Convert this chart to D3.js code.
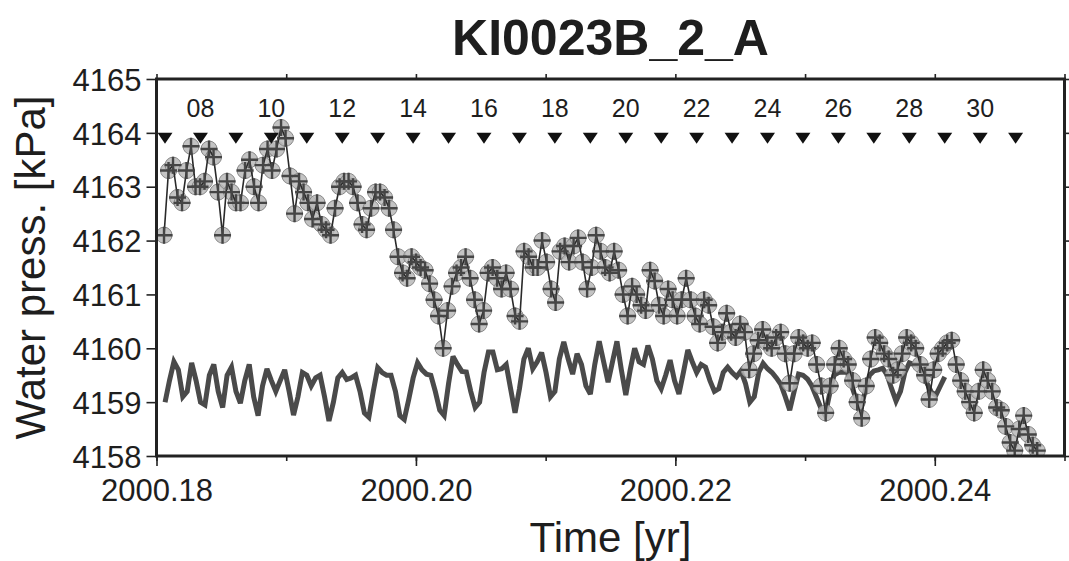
<!DOCTYPE html>
<html><head><meta charset="utf-8">
<script src="https://cdn.jsdelivr.net/npm/d3@7"></script>
<style>body{margin:0;background:#fff} svg{display:block} text{font-family:"Liberation Sans",Arial,Helvetica,sans-serif;fill:#1e1e1e}</style>
</head><body><svg id="c" width="1069" height="561"></svg>
<script>
const titleText = "KI0023B_2_A";
const xLabel = "Time [yr]";
const yLabel = "Water press. [kPa]";
const xMajorTicks = [2000.18, 2000.20, 2000.22, 2000.24];
const xMinorTicks = [2000.18, 2000.19, 2000.20, 2000.21, 2000.22, 2000.23, 2000.24, 2000.25];
const yTicks = [4158, 4159, 4160, 4161, 4162, 4163, 4164, 4165];
const markDays = [7,8,9,10,11,12,13,14,15,16,17,18,19,20,21,22,23,24,25,26,27,28,29,30,31];
const labelDays = [8,10,12,14,16,18,20,22,24,26,28,30];
const markLevel = 4164;
const measuredStartYr = 2000.18058;
const measuredStepDays = 0.127;
const modelStartYr = 2000.18066;
const modelStepDays = 0.125;
const measured = [
4162.1,4163.3,4163.4,4162.8,4162.7,4163.3,4163.75,4163.0,4163.0,4163.1,
4163.7,4163.55,4162.9,4162.1,4163.1,4162.9,4162.7,4162.7,4163.3,4163.5,
4163.0,4162.7,4163.4,4163.7,4163.3,4163.7,4164.1,4163.9,4163.2,4162.5,
4163.1,4162.9,4162.7,4162.4,4162.7,4162.3,4162.2,4162.1,4162.6,4163.0,
4163.1,4163.1,4163.0,4162.7,4162.3,4162.2,4162.6,4162.9,4162.9,4162.8,
4162.6,4162.2,4161.7,4161.4,4161.3,4161.7,4161.6,4161.5,4161.45,4161.2,
4160.9,4160.6,4160.0,4160.7,4161.15,4161.4,4161.5,4161.7,4161.3,4160.9,
4160.45,4160.7,4161.4,4161.5,4161.3,4161.1,4161.4,4161.1,4160.6,4160.5,
4161.8,4161.7,4161.5,4161.5,4162.0,4161.6,4161.1,4160.85,4161.8,4161.9,
4161.6,4161.9,4162.05,4161.6,4161.1,4161.5,4162.1,4161.8,4161.5,4161.4,
4161.8,4161.45,4161.0,4160.6,4161.15,4161.0,4160.8,4160.7,4161.45,4161.25,
4160.8,4160.6,4161.1,4160.9,4160.6,4160.9,4161.3,4160.9,4160.6,4160.45,
4160.9,4160.8,4160.4,4160.1,4160.3,4160.65,4160.3,4160.2,4160.45,4160.3,
4159.6,4159.9,4160.15,4160.35,4160.1,4160.0,4160.2,4160.3,4159.9,4159.35,
4159.9,4160.2,4160.1,4160.0,4160.1,4159.7,4159.3,4158.8,4159.3,4159.7,
4160.0,4159.8,4159.7,4159.4,4159.0,4158.7,4159.3,4159.8,4160.2,4160.1,
4159.9,4159.8,4159.5,4159.6,4159.9,4160.2,4160.1,4160.0,4159.7,4159.5,
4159.05,4159.6,4159.9,4160.0,4160.1,4160.15,4159.7,4159.4,4159.2,4159.0,
4158.8,4159.2,4159.6,4159.4,4159.2,4158.9,4158.85,4158.55,4158.25,4158.1,
4158.5,4158.75,4158.4,4158.2,4158.1
];
const model = [
4159.0,4159.4,4159.75,4159.6,4159.1,4159.2,4159.73,4159.4,4159.0,4158.95,
4159.5,4159.7,4159.2,4158.9,4159.5,4159.65,4159.2,4158.98,4159.4,4159.7,
4159.1,4158.75,4159.3,4159.62,4159.4,4159.2,4159.4,4159.6,4159.2,4158.76,
4159.1,4159.55,4159.5,4159.3,4159.45,4159.5,4159.1,4158.65,4159.0,4159.45,
4159.55,4159.42,4159.45,4159.5,4159.2,4158.8,4158.72,4159.2,4159.64,4159.55,
4159.5,4159.5,4159.2,4158.75,4158.68,4159.05,4159.45,4159.73,4159.6,4159.52,
4159.5,4159.2,4158.85,4158.75,4159.35,4159.85,4159.7,4159.57,4159.56,4159.2,
4158.9,4159.0,4159.55,4159.93,4159.93,4159.6,4159.62,4159.7,4159.25,4158.8,
4159.25,4159.8,4160.0,4159.62,4159.75,4159.92,4159.55,4159.1,4159.2,4159.8,
4160.12,4159.8,4159.52,4159.9,4159.7,4159.3,4159.15,4159.7,4160.13,4159.75,
4159.37,4159.75,4160.13,4159.6,4159.13,4159.6,4160.0,4159.75,4159.7,4160.05,
4159.8,4159.4,4159.25,4159.5,4159.78,4159.4,4159.15,4159.55,4159.97,4159.75,
4159.55,4159.7,4159.65,4159.4,4159.2,4159.25,4159.55,4159.65,4159.55,4159.47,
4159.58,4159.35,4159.0,4159.1,4159.55,4159.72,4159.62,4159.55,4159.45,4159.33,
4159.1,4158.85,4159.2,4159.52,4159.5,4159.43,4159.3,4159.1,4158.9,4158.76,
4159.15,4159.5,4159.55,4159.56,4159.55,4159.3,4159.05,4158.87,4159.2,4159.5,
4159.58,4159.6,4159.63,4159.5,4159.25,4159.02,4159.2,4159.55,4159.73,4159.7,
4159.69,4159.55,4159.35,4159.18,4159.13,4159.3,4159.47
];

const yrPerDay = 1/366;
const dayYr = d => 2000 + (d + 59.12) * yrPerDay; // marker for day d of March 2000
const measYr = i => measuredStartYr + i * measuredStepDays * yrPerDay;
const modelYr = i => modelStartYr + i * modelStepDays * yrPerDay;

const svg = d3.select("#c");
const L = 156.5, R = 1064.5, T = 79, B = 456;
const x = d3.scaleLinear().domain([2000.18, 2000.25]).range([L, R]);
const y = d3.scaleLinear().domain([4158, 4165]).range([B, T]);
const ink = "#222";

svg.append("defs").append("clipPath").attr("id","clip")
  .append("rect").attr("x",L).attr("y",T).attr("width",R-L).attr("height",B-T);

svg.append("text").attr("x",(L+R)/2).attr("y",55).attr("text-anchor","middle")
  .style("font-size","50px").style("font-weight","bold").text(titleText);

const fmtX = d3.format(".2f");
const gB = svg.append("g").attr("transform",`translate(0,${B})`)
  .call(d3.axisBottom(x).tickValues(xMinorTicks).tickSize(5).tickFormat(""));
const gB2 = svg.append("g").attr("transform",`translate(0,${B})`)
  .call(d3.axisBottom(x).tickValues(xMajorTicks).tickSize(10).tickPadding(13).tickFormat(fmtX));
const gT = svg.append("g").attr("transform",`translate(0,${T})`)
  .call(d3.axisTop(x).tickValues(xMinorTicks).tickSize(5).tickFormat(""));
const gL = svg.append("g").attr("transform",`translate(${L},0)`)
  .call(d3.axisLeft(y).tickValues(yTicks).tickSize(10).tickPadding(5).tickFormat(d3.format("d")));
const gR = svg.append("g").attr("transform",`translate(${R},0)`)
  .call(d3.axisRight(y).tickValues(yTicks).tickSize(10).tickFormat(""));
[gB,gB2,gT,gL,gR].forEach(g => {
  g.select(".domain").remove();
  g.selectAll(".tick line").attr("stroke",ink).attr("stroke-width",1.6);
  g.selectAll("text").attr("fill","#1e1e1e").style("font-size","31px")
   .style("font-family","'Liberation Sans',Arial,sans-serif");
});
gB2.selectAll("text").attr("dy","0.71em");
gL.selectAll("text").attr("dy","0.36em");

svg.append("text").attr("x",(L+R)/2).attr("y",552).attr("text-anchor","middle")
  .style("font-size","42px").text(xLabel);
svg.append("text").attr("transform",`translate(45,${(T+B)/2}) rotate(-90)`)
  .attr("text-anchor","middle").style("font-size","42px").text(yLabel);

const plot = svg.append("g").attr("clip-path","url(#clip)");

plot.append("path").datum(model)
  .attr("d", d3.line().x((d,i)=>x(modelYr(i))).y(d=>y(d)))
  .attr("fill","none").attr("stroke","#4a4a4a").attr("stroke-width",5)
  .attr("stroke-linejoin","miter").attr("stroke-miterlimit",3);

plot.append("g").selectAll("circle").data(measured).join("circle")
  .attr("cx",(d,i)=>x(measYr(i))).attr("cy",d=>y(d)).attr("r",8)
  .attr("fill","#b9b9b9").attr("fill-opacity",0.85).attr("stroke","#888").attr("stroke-width",1);

plot.append("path").datum(measured)
  .attr("d", d3.line().x((d,i)=>x(measYr(i))).y(d=>y(d)))
  .attr("fill","none").attr("stroke","#2a2a2a").attr("stroke-width",1.6);

const cr = 8.5;
plot.append("g").selectAll("path").data(measured).join("path")
  .attr("d",(d,i)=>{const cx=x(measYr(i)), cy=y(d);
     return `M${cx-cr},${cy}H${cx+cr}M${cx},${cy-cr}V${cy+cr}`;})
  .attr("stroke","#454545").attr("stroke-width",2.4).attr("fill","none");

const my = y(markLevel);
svg.append("g").selectAll("path").data(markDays).join("path")
  .attr("d", d => {const cx = x(dayYr(d)); return `M${cx-7.5},${my}L${cx+7.5},${my}L${cx},${my+11}Z`;})
  .attr("fill","#111");
svg.append("g").selectAll("text").data(labelDays).join("text")
  .attr("x", d => x(dayYr(d))).attr("y", 117).attr("text-anchor","middle")
  .style("font-size","25px").text(d => String(d).padStart(2,"0"));

svg.append("rect").attr("x",L).attr("y",T).attr("width",R-L).attr("height",B-T)
  .attr("fill","none").attr("stroke",ink).attr("stroke-width",3);
</script></body></html>
